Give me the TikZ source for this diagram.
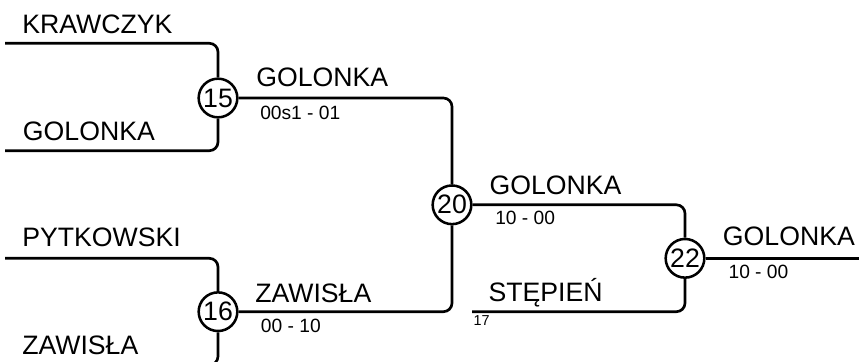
\documentclass[tikz,border=0pt]{standalone}
\usepackage{fontspec}
\setmainfont{Liberation Sans}
\usepackage{tikz}
\newcommand{\drawthick}{\draw[line width=2pt, rounded corners=6.5pt]}
\newcommand{\playername}[4]{\node[anchor=base west, inner sep=0pt, font=\fontsize{20}{24}\selectfont] (#1) at (#3,#4) {#2};}
\newcommand{\scoreline}[4]{\node[anchor=base west, inner sep=0pt, font=\fontsize{14.4}{17}\selectfont] (#1) at (#3,#4) {#2};}
\tikzset{match/.style={circle, draw, line width=1.9pt, minimum size=29pt, inner sep=0pt, fill=white, font=\fontsize{20}{22}\selectfont}}

\begin{document}
\begin{tikzpicture}[x=0.75pt,y=-0.75pt]
\useasboundingbox (0,0) rectangle (859,361);
% matches
\node[match] (m15) at (218,98) {15};
\node[match] (m16) at (218,311.7) {16};
\node[match] (m20) at (452,204.8) {20};
\node[match] (m22) at (685,258.3) {22};
% line ends
\coordinate (krawczyk) at (5,43.3);
\coordinate (golonka) at (5,150.7);
\coordinate (pytkowski) at (5,258.3);
\coordinate (zawisla) at (5,365);
\coordinate (stepien) at (472,311.7);
\coordinate (winner) at (859,258.3);
\drawthick (krawczyk) -| (m15);
\drawthick (golonka) -| (m15);
\drawthick (pytkowski) -| (m16);
\drawthick (zawisla) -| (m16);
\drawthick (m15) -| (m20);
\drawthick (m16) -| (m20);
\drawthick (m20) -| (m22);
\drawthick (stepien) -| (m22);
\drawthick (m22) -- (winner);
% names
\playername{n1}{KRAWCZYK}{22}{33}
\playername{n2}{GOLONKA}{22.7}{140.7}
\playername{n3}{PYTKOWSKI}{22}{246.7}
\playername{n4}{ZAWISŁA}{22}{354}
\playername{n15}{GOLONKA}{256}{86.7}
\playername{n16}{ZAWISŁA}{255}{302.3}
\playername{n20}{GOLONKA}{489.3}{194}
\playername{n17}{STĘPIEŃ}{488.3}{301.7}
\playername{n22}{GOLONKA}{722.7}{245}
% scores
\scoreline{s15}{00s1 - 01}{260}{119}
\scoreline{s16}{00 - 10}{260.7}{332.7}
\scoreline{s20}{10 - 00}{495}{224.3}
\scoreline{s22}{10 - 00}{728.3}{278.3}
\node[anchor=base west, inner sep=0pt, font=\fontsize{10.8}{12}\selectfont] (seed17) at (473.3,325.7) {17};
\end{tikzpicture}
\end{document}
